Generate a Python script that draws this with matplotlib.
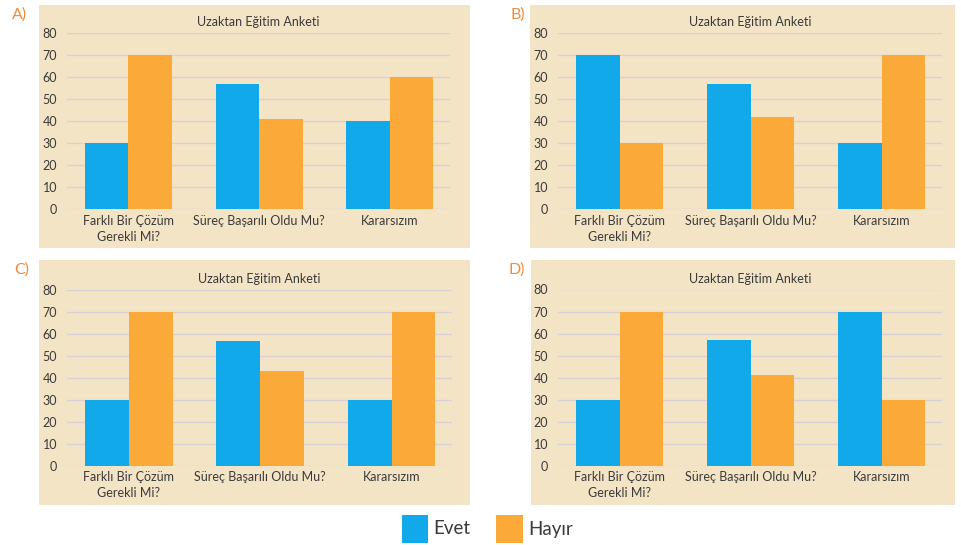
import matplotlib.pyplot as plt
import numpy as np
from matplotlib.patches import Rectangle

plt.rcParams['font.family'] = ['Lato', 'DejaVu Sans']

# anket verisi: her şık için Evet / Hayır değerleri
kategoriler = ['Farklı Bir Çözüm\nGerekli Mi?', 'Süreç Başarılı Oldu Mu?', 'Kararsızım']
evet_A = [30, 57, 40]
hayir_A = [70, 41, 60]
evet_B = [70, 57, 30]
hayir_B = [30, 42, 70]
evet_C = [30, 57, 30]
hayir_C = [70, 43, 70]
evet_D = [30, 57, 70]
hayir_D = [70, 41, 30]
y_ticks = [0, 10, 20, 30, 40, 50, 60, 70, 80]

mavi = '#12a9ea'
turuncu = '#fbaa3a'
zemin = '#f4e4c6'
izgara = '#d8d0d4'
yazi = '#3a3a3a'
harf_rengi = '#ee8a3c'

W, H = 961, 545
fig = plt.figure(figsize=(W / 100, H / 100), dpi=100)
fig.patch.set_facecolor('white')


def fx(px):
    return px / W


def fy(px):
    return 1 - px / H


# panel: (harf, evet, hayir, zemin kutusu, eksen kutusu, harf konumu)
paneller = [
    ('A)', evet_A, hayir_A, (39, 5, 470, 248), (67, 33.3, 450, 209.3), (20, 15)),
    ('B)', evet_B, hayir_B, (530, 5, 955, 248), (558, 33.3, 942, 209.3), (518, 15)),
    ('C)', evet_C, hayir_C, (39, 260, 470, 505), (67, 290, 452, 465.7), (22, 270)),
    ('D)', evet_D, hayir_D, (531, 260, 955, 505), (558, 289.5, 942, 465.7), (517, 270)),
]

x = np.arange(len(kategoriler))
w = 0.333

for harf, evet, hayir, kutu, eks, hpos in paneller:
    x0, y0, x1, y1 = kutu
    fig.patches.append(Rectangle((fx(x0), fy(y1)), fx(x1 - x0), (y1 - y0) / H,
                                 transform=fig.transFigure, facecolor=zemin,
                                 edgecolor='none', zorder=-10))
    fig.text(fx(hpos[0]), fy(hpos[1]), harf, color=harf_rengi, fontsize=11.5,
             ha='center', va='center')

    ex0, ey0, ex1, ey1 = eks
    ax = fig.add_axes([fx(ex0), fy(ey1), fx(ex1 - ex0), (ey1 - ey0) / H])
    ax.set_facecolor('none')
    ax.bar(x - w / 2, evet, w, color=mavi, zorder=3)
    ax.bar(x + w / 2, hayir, w, color=turuncu, zorder=3)
    ax.set_xlim(-0.47, 2.46)
    ax.set_ylim(0, 80)
    ax.set_yticks(y_ticks)
    ax.set_xticks(x)
    ax.set_xticklabels(kategoriler, fontsize=9, color=yazi, linespacing=1.4)
    ax.tick_params(axis='y', labelsize=9, labelcolor=yazi, length=0, pad=7)
    ax.tick_params(axis='x', length=0, pad=4)
    ax.grid(axis='y', color=izgara, linewidth=1, zorder=1)
    ax.set_axisbelow(True)
    for s in ax.spines.values():
        s.set_visible(False)
    ax.set_title('Uzaktan Eğitim Anketi', fontsize=9, color=yazi, pad=5)

# alttaki açıklama
fig.patches.append(Rectangle((fx(402), fy(543)), fx(26), 28 / H, transform=fig.transFigure,
                             facecolor=mavi, edgecolor='none'))
fig.text(fx(433), fy(529), 'Evet', fontsize=13.5, color=yazi, va='center')
fig.patches.append(Rectangle((fx(496), fy(543)), fx(27), 28 / H, transform=fig.transFigure,
                             facecolor=turuncu, edgecolor='none'))
fig.text(fx(528), fy(529), 'Hayır', fontsize=13.5, color=yazi, va='center')

fig.savefig('out.png', dpi=100)
